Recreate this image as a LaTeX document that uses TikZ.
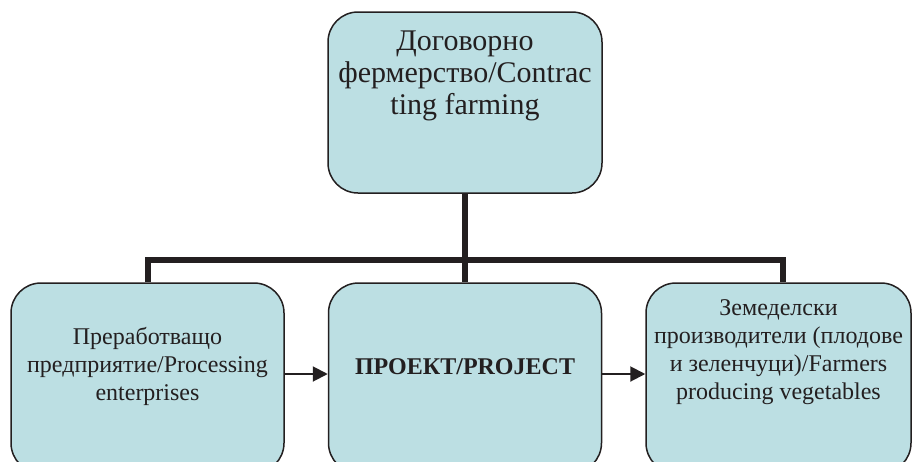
\documentclass[tikz,border=0pt]{standalone}
\usepackage{fontspec}
\setmainfont{Liberation Serif}
\usetikzlibrary{arrows.meta}
\definecolor{boxfill}{RGB}{188,223,227}
\definecolor{ink}{RGB}{35,31,32}
\begin{document}
\begin{tikzpicture}[x=1pt,y=-1pt,
  box/.style={draw=ink, line width=1.5pt, fill=boxfill, rounded corners=30pt, rectangle, inner sep=0pt},
  trunk/.style={draw=ink, line width=6pt, line join=miter},
  arr/.style={draw=ink, line width=2pt, -{Triangle[length=15pt,width=15pt]}},
  toplbl/.style={text=ink, align=center, font=\fontsize{30}{32}\selectfont},
  lbl/.style={text=ink, align=center, font=\fontsize{24}{28}\selectfont}]
\useasboundingbox (0,0) rectangle (913,461);
\begin{scope}
\clip (0,0) rectangle (913,461);
\node[box, minimum width=274pt, minimum height=181pt] (top) at (465,102.5) {};
\node[box, minimum width=273pt, minimum height=190pt] (left) at (147.5,378) {};
\node[box, minimum width=273pt, minimum height=190pt] (mid) at (465,378) {};
\node[box, minimum width=265pt, minimum height=190pt] (right) at (778.5,378) {};
\coordinate (bar) at (465,260);
\draw[trunk] (top.south) -- (mid.north);
\draw[trunk] (left.north) |- (bar) -| ([xshift=4.5pt]right.north);
\draw[arr] ([yshift=4pt]left.east) -- ([yshift=4pt]mid.west);
\draw[arr] ([yshift=4pt]mid.east) -- ([yshift=4pt]right.west);
\node[toplbl] (ttop) at (465,76) {Договорно\\фермерство/Contrac\\ting farming};
\node[lbl] (tleft) at (147.5,366) {Преработващо\\предприятие/Processing\\enterprises};
\node[lbl, font=\fontsize{24}{28}\selectfont\bfseries] (tmid) at (465,367) {ПРОЕКТ/PROJECT};
\node[lbl] (tright) at (778.5,352) {Земеделски\\производители (плодове\\и зеленчуци)/Farmers\\producing vegetables};
\end{scope}
\end{tikzpicture}
\end{document}
